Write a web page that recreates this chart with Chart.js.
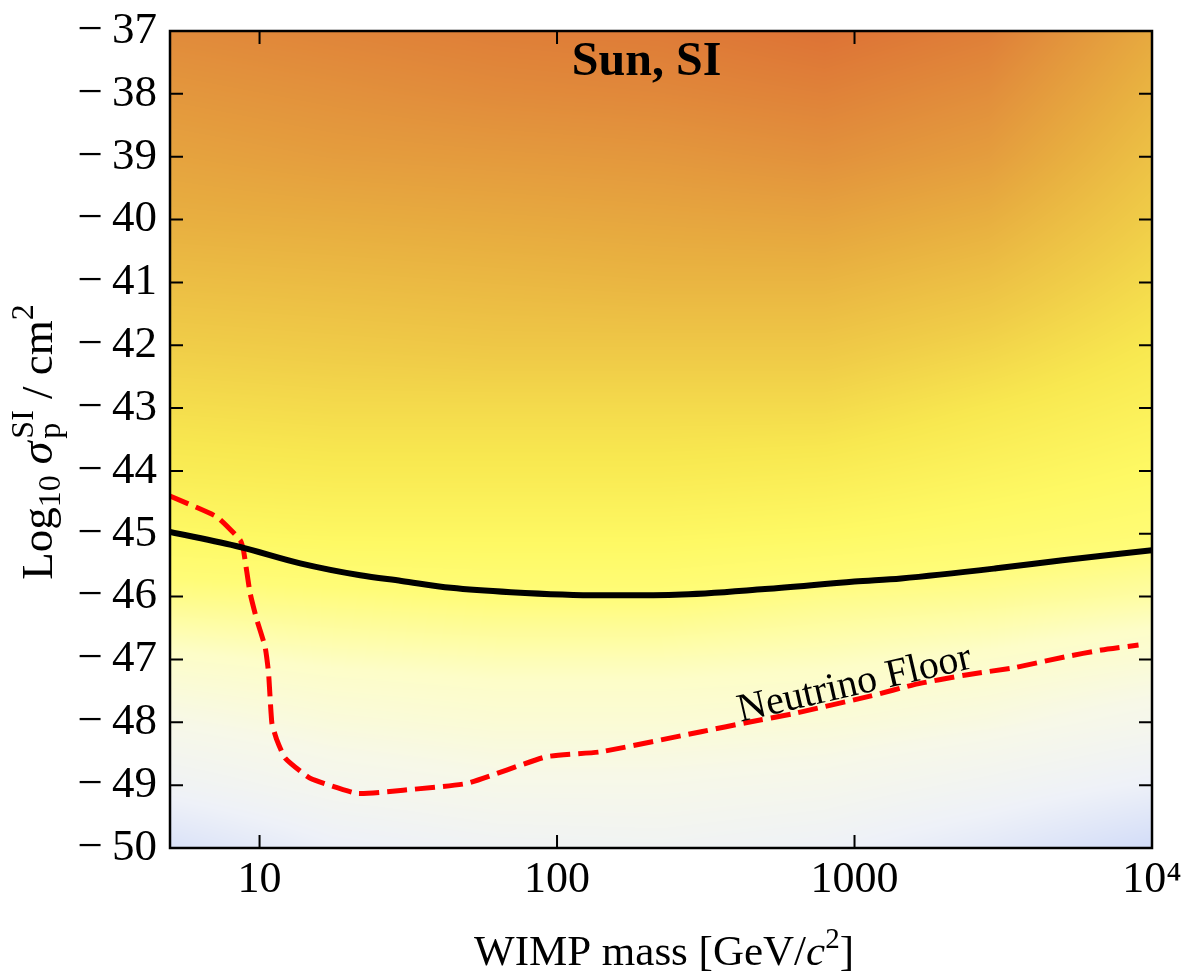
<!DOCTYPE html>
<html>
<head>
<meta charset="utf-8">
<script src="https://cdn.jsdelivr.net/npm/chart.js@4"></script>
<style>
  body { margin: 0; background: #fff; }
  #wrap { width: 1187px; height: 980px; }
</style>
</head>
<body>
<div id="wrap"><canvas id="sunChart" width="1187" height="980"></canvas></div>
<script>
// Exclusion limit (black, solid)
const limitMass = [5, 8.6, 13.7, 21.8, 30, 44, 70, 140, 250, 500, 1000, 1435, 3000, 5000, 10000];
const limitSigma = [-44.97, -45.21, -45.47, -45.66, -45.75, -45.86, -45.93, -45.98, -45.97, -45.88, -45.76, -45.71, -45.55, -45.42, -45.26];

// Neutrino floor (red, dashed)
const floorMass = [5, 7.18, 8.61, 8.83, 9.29, 9.79, 10.44, 10.72, 11.0, 11.43, 12.19, 14.8, 21.3, 30.4, 50, 91.6, 140, 305, 449, 612, 1137, 1589, 2340, 3446, 5077, 6765, 9010];
const floorSigma = [-44.40, -44.73, -45.10, -45.26, -45.94, -46.37, -46.80, -47.21, -48.01, -48.28, -48.57, -48.89, -49.13, -49.08, -48.97, -48.55, -48.47, -48.15, -47.99, -47.87, -47.58, -47.40, -47.25, -47.13, -46.96, -46.85, -46.77];

// Background density: columns in mass, rows in log sigma, level 0..1
const bgMass = [5, 17.8, 63, 224, 794, 2818, 10000];
const bgSigma = [-37, -38, -39, -40, -41, -42, -43, -44, -45, -46, -47, -48, -49, -50];
const bgLevel = [
  [0.90, 0.92, 0.94, 0.95, 0.98, 0.94, 0.80],
  [0.86, 0.88, 0.90, 0.91, 0.93, 0.89, 0.76],
  [0.82, 0.84, 0.85, 0.86, 0.88, 0.84, 0.72],
  [0.78, 0.79, 0.80, 0.81, 0.82, 0.78, 0.68],
  [0.73, 0.74, 0.75, 0.76, 0.76, 0.72, 0.64],
  [0.68, 0.69, 0.70, 0.70, 0.70, 0.66, 0.60],
  [0.63, 0.64, 0.64, 0.64, 0.64, 0.60, 0.56],
  [0.58, 0.59, 0.59, 0.59, 0.58, 0.55, 0.52],
  [0.52, 0.53, 0.53, 0.53, 0.52, 0.50, 0.48],
  [0.45, 0.46, 0.47, 0.47, 0.45, 0.44, 0.42],
  [0.37, 0.39, 0.40, 0.40, 0.39, 0.37, 0.34],
  [0.28, 0.32, 0.34, 0.34, 0.33, 0.30, 0.25],
  [0.18, 0.24, 0.27, 0.27, 0.25, 0.20, 0.14],
  [0.04, 0.14, 0.18, 0.19, 0.16, 0.09, 0.00]
];

// colour map stops: level -> rgb
const cmapStops = [0, 0.15, 0.28, 0.38, 0.47, 0.52, 0.60, 0.68, 0.78, 0.88, 1.0];
const cmapColors = [
  [210, 220, 248], [238, 241, 248], [247, 248, 232], [253, 253, 200], [255, 252, 120],
  [254, 249, 100], [248, 232, 80], [240, 205, 72], [232, 175, 64], [226, 145, 60], [220, 108, 52]
];

const xTicks = [10, 100, 1000, 10000];
const xTickLabels = ['10', '100', '1000', '10\u2074'];
const yTicks = [-37, -38, -39, -40, -41, -42, -43, -44, -45, -46, -47, -48, -49, -50];

const SERIF = "'Liberation Serif', 'Times New Roman', serif";
Chart.defaults.font.family = SERIF;
Chart.defaults.color = '#000';

function toXY(xs, ys) {
    return xs.map((x, i) => ({ x: x, y: ys[i] }));
}

function cmap(t) {
    t = Math.max(0, Math.min(1, t));
    let i = 0;
    while (i < cmapStops.length - 2 && t > cmapStops[i + 1]) i++;
    const f = (t - cmapStops[i]) / (cmapStops[i + 1] - cmapStops[i]);
    const a = cmapColors[i], b = cmapColors[i + 1];
    return [a[0] + (b[0] - a[0]) * f, a[1] + (b[1] - a[1]) * f, a[2] + (b[2] - a[2]) * f];
}

function locate(arr, v) {
    const n = arr.length;
    const inc = arr[n - 1] > arr[0];
    for (let i = 0; i < n - 1; i++) {
        const lo = arr[i], hi = arr[i + 1];
        if ((inc && v <= hi) || (!inc && v >= hi)) {
            return [i, Math.max(0, Math.min(1, (v - lo) / (hi - lo)))];
        }
    }
    return [n - 2, 1];
}

const densityBackground = {
    id: 'densityBackground',
    beforeDatasetsDraw(chart) {
        const { ctx, chartArea, scales } = chart;
        const x0 = Math.round(chartArea.left), y0 = Math.round(chartArea.top);
        const w = Math.round(chartArea.right) - x0, h = Math.round(chartArea.bottom) - y0;
        const img = ctx.createImageData(w, h);
        const logMass = bgMass.map(Math.log10);
        const rows = [];
        for (let j = 0; j < h; j++) rows.push(locate(bgSigma, scales.y.getValueForPixel(y0 + j + 0.5)));
        for (let i = 0; i < w; i++) {
            const [ci, cf] = locate(logMass, Math.log10(scales.x.getValueForPixel(x0 + i + 0.5)));
            for (let j = 0; j < h; j++) {
                const [ri, rf] = rows[j];
                const v = (bgLevel[ri][ci] * (1 - cf) + bgLevel[ri][ci + 1] * cf) * (1 - rf) +
                          (bgLevel[ri + 1][ci] * (1 - cf) + bgLevel[ri + 1][ci + 1] * cf) * rf;
                const c = cmap(v);
                const k = (j * w + i) * 4;
                img.data[k] = c[0]; img.data[k + 1] = c[1]; img.data[k + 2] = c[2]; img.data[k + 3] = 255;
            }
        }
        ctx.putImageData(img, x0, y0);
    }
};

const frameAndText = {
    id: 'frameAndText',
    afterDatasetsDraw(chart) {
        const { ctx, chartArea: a, scales } = chart;
        const xs = scales.x, ys = scales.y;
        ctx.save();

        // Neutrino Floor label
        ctx.save();
        ctx.translate(xs.getPixelForValue(1000), ys.getPixelForValue(-47.4));
        ctx.rotate(-13 * Math.PI / 180);
        ctx.font = '40px ' + SERIF;
        ctx.fillStyle = '#000';
        ctx.textAlign = 'center';
        ctx.textBaseline = 'middle';
        ctx.fillText('Neutrino Floor', 0, 0);
        ctx.restore();

        // panel title
        ctx.font = 'bold 48px ' + SERIF;
        ctx.fillStyle = '#000';
        ctx.textAlign = 'center';
        ctx.textBaseline = 'alphabetic';
        ctx.fillText('Sun, SI', xs.getPixelForValue(200), ys.getPixelForValue(-37.7));

        // frame
        ctx.strokeStyle = '#000';
        ctx.lineWidth = 2.5;
        ctx.strokeRect(a.left, a.top, a.right - a.left, a.bottom - a.top);

        // inward ticks
        ctx.lineWidth = 2;
        const tl = 13;
        ctx.beginPath();
        xTicks.forEach(v => {
            const px = xs.getPixelForValue(v);
            ctx.moveTo(px, a.bottom); ctx.lineTo(px, a.bottom - tl);
            ctx.moveTo(px, a.top); ctx.lineTo(px, a.top + tl);
        });
        yTicks.forEach(v => {
            const py = ys.getPixelForValue(v);
            ctx.moveTo(a.left, py); ctx.lineTo(a.left + tl, py);
            ctx.moveTo(a.right, py); ctx.lineTo(a.right - tl, py);
        });
        ctx.stroke();
        ctx.restore();
    },
    afterDraw(chart) {
        const { ctx, chartArea: a } = chart;
        ctx.save();
        ctx.fillStyle = '#000';
        ctx.textBaseline = 'alphabetic';
        ctx.textAlign = 'left';

        // x axis title: WIMP mass [GeV/c^2]
        const big = '43px ' + SERIF, small = '29px ' + SERIF, ital = 'italic 43px ' + SERIF;
        const parts = [
            { t: 'WIMP mass [GeV/', f: big, dy: 0 },
            { t: 'c', f: ital, dy: 0 },
            { t: '2', f: small, dy: -17 },
            { t: ']', f: big, dy: 0 }
        ];
        let total = 0;
        parts.forEach(p => { ctx.font = p.f; p.w = ctx.measureText(p.t).width; total += p.w; });
        let x = (a.left + a.right) / 2 - total / 2 + 3;
        parts.forEach(p => {
            ctx.font = p.f;
            ctx.fillText(p.t, x, 965 + p.dy);
            x += p.w;
        });

        // y axis title: Log10 sigma_p^SI / cm^2, rotated
        ctx.translate(52, 442);
        ctx.rotate(-Math.PI / 2);
        const yBig = '45px ' + SERIF, ySmall = '32px ' + SERIF;
        const yparts = [
            { t: 'Log', f: yBig, dy: 0, gap: 0 },
            { t: '10', f: ySmall, dy: 8, gap: 11 },
            { t: '\u03C3', f: 'italic 46px ' + SERIF, dy: 0, gap: 3 },
            { t: 'SI', f: ySmall, dy: -19, gap: 0, stackWith: 'p' },
            { t: ' / cm', f: yBig, dy: 0, gap: 0 },
            { t: '2', f: ySmall, dy: -19, gap: 0 }
        ];
        let ytot = 0;
        yparts.forEach(p => {
            ctx.font = p.f;
            p.w = ctx.measureText(p.t).width;
            if (p.stackWith) p.w = Math.max(p.w, ctx.measureText(p.stackWith).width);
            ytot += p.w + p.gap;
        });
        let yx = -ytot / 2;
        yparts.forEach(p => {
            ctx.font = p.f;
            ctx.fillText(p.t, yx, p.dy);
            if (p.stackWith) ctx.fillText(p.stackWith, yx, 8);
            yx += p.w + p.gap;
        });
        ctx.restore();
    }
};

new Chart(document.getElementById('sunChart'), {
    type: 'line',
    data: {
        datasets: [
            {
                label: 'Limit',
                data: toXY(limitMass, limitSigma),
                borderColor: '#000000',
                borderWidth: 6,
                pointRadius: 0,
                cubicInterpolationMode: 'monotone',
                fill: false
            },
            {
                label: 'Neutrino Floor',
                data: toXY(floorMass, floorSigma),
                borderColor: '#ff0000',
                borderWidth: 5,
                borderDash: [20, 8],
                pointRadius: 0,
                tension: 0.15,
                fill: false
            }
        ]
    },
    options: {
        responsive: false,
        animation: false,
        devicePixelRatio: 1,
        layout: { padding: { left: 0, top: 31, right: 35, bottom: 0 } },
        plugins: {
            legend: { display: false },
            tooltip: { enabled: false }
        },
        scales: {
            x: {
                type: 'logarithmic',
                min: 5,
                max: 10000,
                grid: { display: false, drawTicks: false },
                border: { display: false },
                afterBuildTicks: (scale) => { scale.ticks = xTicks.map(v => ({ value: v })); },
                afterFit: (scale) => {
                    scale.height = 132;
                    scale.paddingLeft = 0;
                    scale.paddingRight = 0;
                },
                ticks: {
                    autoSkip: false,
                    maxRotation: 0,
                    padding: 6,
                    color: '#000',
                    font: { family: SERIF, size: 44 },
                    callback: (v) => xTickLabels[xTicks.indexOf(v)]
                }
            },
            y: {
                min: -50,
                max: -37,
                grid: { display: false, drawTicks: false },
                border: { display: false },
                afterBuildTicks: (scale) => { scale.ticks = yTicks.map(v => ({ value: v })); },
                afterFit: (scale) => {
                    scale.width = 170;
                    scale.paddingTop = 0;
                    scale.paddingBottom = 0;
                },
                ticks: {
                    padding: 13,
                    color: '#000',
                    font: { family: SERIF, size: 45 },
                    callback: (v) => '\u2212\u2009' + Math.abs(v)
                }
            }
        }
    },
    plugins: [densityBackground, frameAndText]
});
</script>
</body>
</html>
